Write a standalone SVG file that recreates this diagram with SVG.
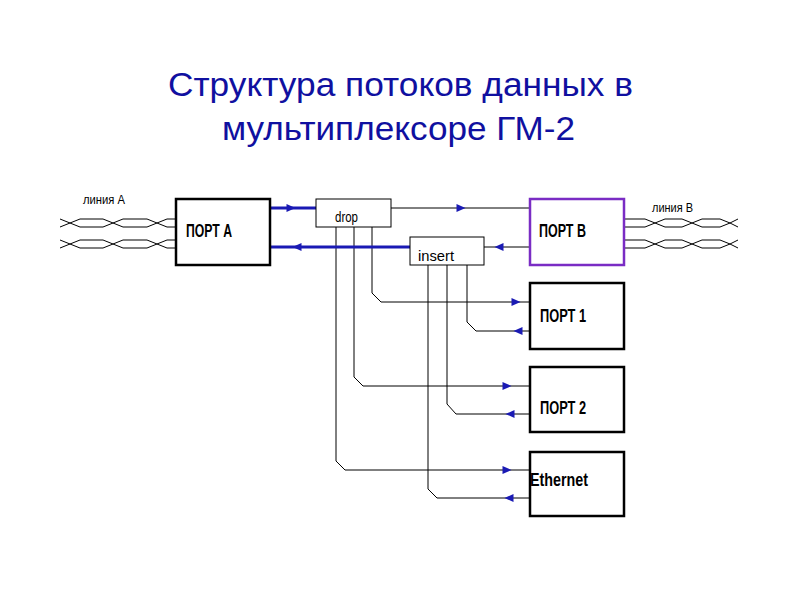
<svg xmlns="http://www.w3.org/2000/svg" xmlns:xlink="http://www.w3.org/1999/xlink" width="800" height="600" viewBox="0 0 800 600">
<style>
.title{font-family:"Liberation Sans",Arial,sans-serif;font-size:33px;fill:#1010a0}
.box{fill:#fff;stroke:#000;stroke-width:2.5}
.small{fill:#fff;stroke:#000;stroke-width:1}
.lbl{font-family:"Liberation Sans",Arial,sans-serif;font-size:19px;font-weight:bold;fill:#000}
.mono{font-family:"Liberation Sans",Arial,sans-serif;font-size:14px;fill:#000}
.line{font-family:"Liberation Sans",Arial,sans-serif;font-size:12px;fill:#000}
.w{fill:none;stroke:#000;stroke-width:1}
.blue{fill:none;stroke:#1a1ab4;stroke-width:3}
.ar{fill:#1a1ab4}
</style>
<defs>
<path id="ar" d="M-4.5,-4 L4.5,0 L-4.5,4 Z"/>
<g id="pairA">
<path d="M60,227 L70,223 L80,219 L103,219 L113,223 L123,227 L147,227 L157,223 L167,219 L176,219"/>
<path d="M60,219 L70,223 L80,227 L103,227 L113,223 L123,219 L147,219 L157,223 L167,227 L176,227"/>
</g>
<g id="pairB">
<path d="M624,219 L645,219 L655,223 L665,227 L682,227 L692,223 L702,219 L720,219 L730,223 L738,227"/>
<path d="M624,227 L645,227 L655,223 L665,219 L682,219 L692,223 L702,227 L720,227 L730,223 L738,219"/>
</g>
</defs>
<rect width="800" height="600" fill="#fff"/>
<g id="title">
<text class="title" x="168" y="96" textLength="465" lengthAdjust="spacingAndGlyphs">Структура потоков данных в</text>
<text class="title" x="222" y="140" textLength="353" lengthAdjust="spacingAndGlyphs">мультиплексоре ГМ-2</text>
</g>
<g id="connectors">
<g class="w">
<use xlink:href="#pairA"/>
<use xlink:href="#pairA" transform="translate(0,21)"/>
<use xlink:href="#pairB"/>
<use xlink:href="#pairB" transform="translate(0,21)"/>
<path d="M391,208 H530"/>
<path d="M484,247 H530"/>
<path d="M372,227 V293 L381,302 H530"/>
<path d="M467,265 V322 L476,331 H530"/>
<path d="M354,227 V377 L363,386 H530"/>
<path d="M447,265 V404 L456,414 H530"/>
<path d="M336,227 V461 L345,470 H530"/>
<path d="M428,265 V489 L437,498 H530"/>
</g>
<path class="blue" d="M270,208 H316"/>
<path class="blue" d="M270,247 H410"/>
<g class="ar">
<use xlink:href="#ar" transform="translate(291,208)"/>
<use xlink:href="#ar" transform="translate(297,247) rotate(180)"/>
<use xlink:href="#ar" transform="translate(461,208)"/>
<use xlink:href="#ar" transform="translate(499,247) rotate(180)"/>
<use xlink:href="#ar" transform="translate(516,302)"/>
<use xlink:href="#ar" transform="translate(518,331) rotate(180)"/>
<use xlink:href="#ar" transform="translate(507,386)"/>
<use xlink:href="#ar" transform="translate(510,414) rotate(180)"/>
<use xlink:href="#ar" transform="translate(507,470)"/>
<use xlink:href="#ar" transform="translate(509,498) rotate(180)"/>
</g>
</g>
<g id="lineA"><text class="line" x="83" y="204" textLength="42" lengthAdjust="spacingAndGlyphs">линия А</text></g>
<g id="lineB"><text class="line" x="652" y="212" textLength="41" lengthAdjust="spacingAndGlyphs">линия В</text></g>
<g id="portA">
<rect class="box" x="176" y="199" width="94" height="66"/>
<text class="lbl" x="186" y="237" textLength="46" lengthAdjust="spacingAndGlyphs">ПОРТ А</text>
</g>
<g id="drop">
<rect class="small" x="316" y="199" width="75" height="28"/>
<text class="mono" x="335" y="222" textLength="23" lengthAdjust="spacingAndGlyphs">drop</text>
</g>
<g id="insert">
<rect class="small" x="410" y="237" width="74" height="28"/>
<text class="mono" x="418" y="261" textLength="36" lengthAdjust="spacingAndGlyphs">insert</text>
</g>
<g id="portB">
<rect x="530" y="199" width="94" height="66" fill="#fff" stroke="#7a2cc4" stroke-width="2.5"/>
<text class="lbl" x="539" y="237" textLength="47" lengthAdjust="spacingAndGlyphs">ПОРТ В</text>
</g>
<g id="port1">
<rect class="box" x="530" y="283" width="94" height="66"/>
<text class="lbl" x="540" y="322" textLength="46" lengthAdjust="spacingAndGlyphs">ПОРТ 1</text>
</g>
<g id="port2">
<rect class="box" x="530" y="367" width="94" height="65"/>
<text class="lbl" x="540" y="414" textLength="46" lengthAdjust="spacingAndGlyphs">ПОРТ 2</text>
</g>
<g id="ethernet">
<rect class="box" x="530" y="452" width="94" height="64"/>
<text class="lbl" x="530" y="486" textLength="58" lengthAdjust="spacingAndGlyphs">Ethernet</text>
</g>
</svg>
